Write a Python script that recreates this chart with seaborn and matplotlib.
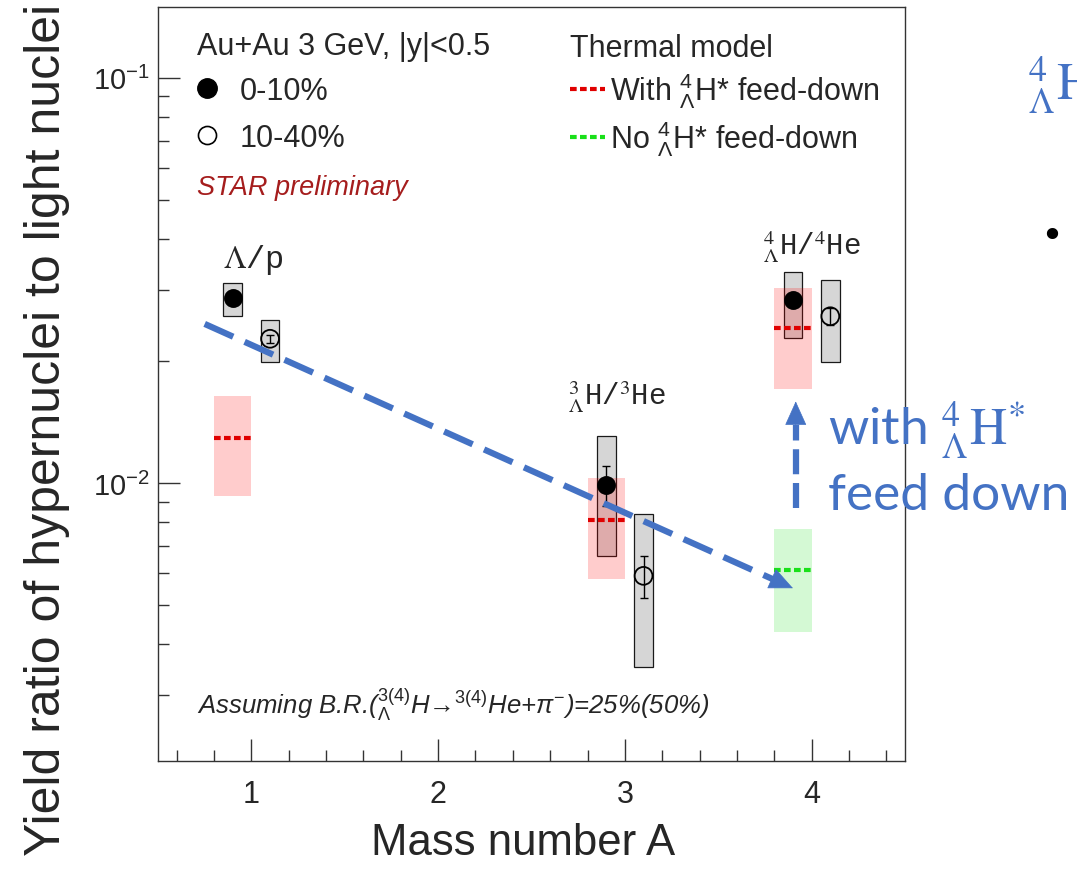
import numpy as np
import pandas as pd
import matplotlib
matplotlib.use("Agg")
import matplotlib.pyplot as plt
import seaborn as sns
from matplotlib.lines import Line2D
from matplotlib.patches import Rectangle
from matplotlib.ticker import LogLocator, NullFormatter, MultipleLocator, FixedLocator, FuncFormatter

# ------------------------- data -------------------------
mass_number = [1, 3, 4]
centrality_labels = ["0-10%", "10-40%"]

y_0_10 = [0.0287, 0.0099, 0.0283]
stat_0_10 = [0.0004, 0.0011, 0.0008]
sys_lo_0_10 = [0.0258, 0.0066, 0.0228]
sys_hi_0_10 = [0.0312, 0.0131, 0.0332]

y_10_40 = [0.0227, 0.0059, 0.0258]
stat_10_40 = [0.0005, 0.0007, 0.0012]
sys_lo_10_40 = [0.0199, 0.00352, 0.0199]
sys_hi_10_40 = [0.0252, 0.0084, 0.0317]

thermal_with = [0.0129, 0.0081, 0.0241]
thermal_with_lo = [0.0093, 0.0058, 0.0171]
thermal_with_hi = [0.0164, 0.0103, 0.0303]

thermal_no_A = [4]
thermal_no = [0.0061]
thermal_no_lo = [0.0043]
thermal_no_hi = [0.0077]

trend_x = [0.75, 3.90]
trend_y = [0.0247, 0.0055]
feed_x = 3.915
feed_y = [0.0087, 0.0159]

x_ticks = [1, 2, 3, 4]

# ------------------------- style -------------------------
sns.set_style("ticks")
plt.rcParams["font.family"] = ["Liberation Sans", "DejaVu Sans"]
plt.rcParams["mathtext.fontset"] = "custom"
plt.rcParams["mathtext.rm"] = "Liberation Sans"
plt.rcParams["mathtext.it"] = "Liberation Sans:italic"
plt.rcParams["mathtext.bf"] = "Liberation Sans:bold"

BLUE = "#4472C4"
RED = "#e00000"
GREEN = "#19e019"

fig = plt.figure(figsize=(10.77, 8.70), dpi=100, facecolor="white")
ax = fig.add_axes([158 / 1077, 1 - 762 / 870, 747 / 1077, 754 / 870])

ax.set_yscale("log")
ax.set_xlim(0.5, 4.5)
ax.set_ylim(0.00206, 0.1496)

# systematic boxes
hw = 0.05
for A, lo, hi in zip(mass_number, sys_lo_0_10, sys_hi_0_10):
    ax.add_patch(Rectangle((A - 0.1 - hw, lo), 2 * hw, hi - lo, fc="#d6d6d6",
                           ec="#1a1a1a", lw=0.9, zorder=2))
for A, lo, hi in zip(mass_number, sys_lo_10_40, sys_hi_10_40):
    ax.add_patch(Rectangle((A + 0.1 - hw, lo), 2 * hw, hi - lo, fc="#d6d6d6",
                           ec="#1a1a1a", lw=0.9, zorder=2))

# thermal model bands
dash = (0, (1.6, 0.8))
for A, v, lo, hi in zip(mass_number, thermal_with, thermal_with_lo, thermal_with_hi):
    ax.fill_between([A - 0.2, A], lo, hi, color="red", alpha=0.2, lw=0, zorder=3)
    ax.plot([A - 0.2, A], [v, v], color=RED, lw=3, ls=dash, zorder=4)
for A, v, lo, hi in zip(thermal_no_A, thermal_no, thermal_no_lo, thermal_no_hi):
    ax.fill_between([A - 0.2, A], lo, hi, color="#00e000", alpha=0.17, lw=0, zorder=3)
    ax.plot([A - 0.2, A], [v, v], color=GREEN, lw=3, ls=dash, zorder=4)

# statistical error bars
ax.errorbar(np.array(mass_number) - 0.1, y_0_10, yerr=stat_0_10, fmt="none",
            ecolor="black", elinewidth=1.0, capsize=3, capthick=1.0, zorder=5)
ax.errorbar(np.array(mass_number) + 0.1, y_10_40, yerr=stat_10_40, fmt="none",
            ecolor="black", elinewidth=1.0, capsize=3, capthick=1.0, zorder=5)

# data points
df0 = pd.DataFrame({"A": np.array(mass_number) - 0.1, "ratio": y_0_10})
df1 = pd.DataFrame({"A": np.array(mass_number) + 0.1, "ratio": y_10_40})
sns.scatterplot(data=df0, x="A", y="ratio", ax=ax, color="black", s=185,
                marker="o", edgecolor="black", linewidth=0, zorder=6, legend=False)
sns.scatterplot(data=df1, x="A", y="ratio", ax=ax, s=165, marker="o",
                facecolor="none", edgecolor="black", linewidth=1.3, zorder=6, legend=False)

# blue trend arrow (dashed shaft + solid head)
f = 0.965
hx = trend_x[0] + f * (trend_x[1] - trend_x[0])
hy = 10 ** (np.log10(trend_y[0]) + f * (np.log10(trend_y[1]) - np.log10(trend_y[0])))
ax.plot([trend_x[0], hx], [trend_y[0], hy], color=BLUE, lw=4.5,
        ls=(0, (5, 2)), solid_capstyle="butt", dash_capstyle="butt", zorder=8)
ax.annotate("", xy=(trend_x[1], trend_y[1]), xytext=(hx, hy),
            arrowprops=dict(arrowstyle="-|>,head_length=1.0,head_width=0.45",
                            color=BLUE, lw=0.5, shrinkA=0, shrinkB=0,
                            mutation_scale=16), zorder=8)

# vertical feed-down arrow
g = 0.78
vy = 10 ** (np.log10(feed_y[0]) + g * (np.log10(feed_y[1]) - np.log10(feed_y[0])))
ax.plot([feed_x, feed_x], [feed_y[0], vy], color=BLUE, lw=4.5,
        ls=(0, (4, 1.4)), dash_capstyle="butt", zorder=8)
ax.annotate("", xy=(feed_x, feed_y[1]), xytext=(feed_x, vy),
            arrowprops=dict(arrowstyle="-|>,head_length=1.0,head_width=0.45",
                            color=BLUE, lw=0.5, shrinkA=0, shrinkB=0,
                            mutation_scale=16), zorder=8)

# ratio labels
ax.text(1.01, 0.0357, r"$\Lambda$/p", family="Liberation Mono", math_fontfamily="stix",
        fontsize=23, ha="center", va="center", zorder=9)
ax.text(2.96, 0.0164, r"${}^{3}_{\Lambda}$H/${}^{3}$He", family="Liberation Mono",
        math_fontfamily="stix", fontsize=21, ha="center", va="center", zorder=9)
ax.text(4.0, 0.0385, r"${}^{4}_{\Lambda}$H/${}^{4}$He", family="Liberation Mono",
        math_fontfamily="stix", fontsize=21, ha="center", va="center", zorder=9)

# legends
ax.text(0.052, (762 - 47) / 754, "Au+Au 3 GeV, |y|<0.5", transform=ax.transAxes,
        fontsize=22, ha="left", va="center")
h_filled = Line2D([], [], ls="", marker="o", ms=14, mfc="black", mec="black")
h_open = Line2D([], [], ls="", marker="o", ms=13, mfc="none", mec="black", mew=1.2)
leg1 = ax.legend([h_filled, h_open], centrality_labels,
                 loc="upper left", bbox_to_anchor=(0.052, 0.909), frameon=False,
                 fontsize=22, handlelength=0.65,
                 handletextpad=0.75, labelspacing=0.57, borderaxespad=0, borderpad=0)
ax.add_artist(leg1)
h_red = Line2D([], [], color=RED, lw=3, ls=dash)
h_green = Line2D([], [], color=GREEN, lw=3, ls=dash)
leg2 = ax.legend([h_red, h_green],
                 [r"With ${}^{4}_{\Lambda}$H* feed-down", r"No ${}^{4}_{\Lambda}$H* feed-down"],
                 title="Thermal model", loc="upper left", bbox_to_anchor=(0.552, 0.9655),
                 frameon=False, fontsize=22, title_fontsize=22, alignment="left",
                 handlelength=1.14, handletextpad=0.16, labelspacing=0.25,
                 borderaxespad=0, borderpad=0)

ax.text(0.052, (762 - 188) / 754, "STAR preliminary", transform=ax.transAxes,
        color="#a51d1d", style="italic", fontsize=19.5, ha="left", va="center")
ax.text(0.052, (762 - 705) / 754,
        r"Assuming B.R.(${}^{\mathit{3(4)}}_{\Lambda}$H→${}^{\mathit{3(4)}}$He+$\pi^{-}$)=25%(50%)",
        transform=ax.transAxes, style="italic", fontsize=18.5, ha="left", va="center")

# axes
ax.xaxis.set_major_locator(FixedLocator(x_ticks))
ax.xaxis.set_minor_locator(MultipleLocator(0.2))
ax.yaxis.set_major_locator(LogLocator(base=10))
ax.yaxis.set_minor_locator(LogLocator(base=10, subs=np.arange(2, 10)))
ax.yaxis.set_minor_formatter(NullFormatter())
ax.yaxis.set_major_formatter(FuncFormatter(lambda v, p: r"$10^{%d}$" % int(round(np.log10(v)))))
ax.tick_params(which="both", direction="in", top=False, right=False, color="#333333")
ax.tick_params(which="major", length=16, width=1.0)
ax.tick_params(which="minor", length=8, width=1.0)
ax.tick_params(axis="x", which="major", labelsize=22, pad=13)
ax.tick_params(axis="y", which="major", labelsize=21, pad=6)
for s in ax.spines.values():
    s.set_color("#333333")
    s.set_linewidth(1.0)

ax.set_xlabel("Mass number A", fontsize=31.5)
ax.xaxis.set_label_coords(0.489, -0.081)
ax.set_ylabel("Yield ratio of hypernuclei to light nuclei", fontsize=36)
ax.yaxis.set_label_coords(-0.118, 0.44)

# slide annotations outside the plot
fig.text(828 / 1077, 1 - 445 / 870, r"with ${}^{4}_{\Lambda}\mathrm{H}^{*}$", color=BLUE,
         fontsize=37, family="Lato", math_fontfamily="stix", ha="left", va="baseline")
fig.text(828 / 1077, 1 - 510 / 870, "feed down", color=BLUE, fontsize=37,
         family="Lato", ha="left", va="baseline")
fig.text(1028 / 1077, 1 - 100 / 870, r"${}^{4}_{\Lambda}\mathrm{H}$", color=BLUE,
         fontsize=37, math_fontfamily="stix", ha="left", va="baseline")
fig.text(1052 / 1077, 1 - 237 / 870, "\u2022", color="black", fontsize=28,
         family="DejaVu Sans", ha="center", va="center")

fig.savefig("out.png", dpi=100, facecolor="white")
